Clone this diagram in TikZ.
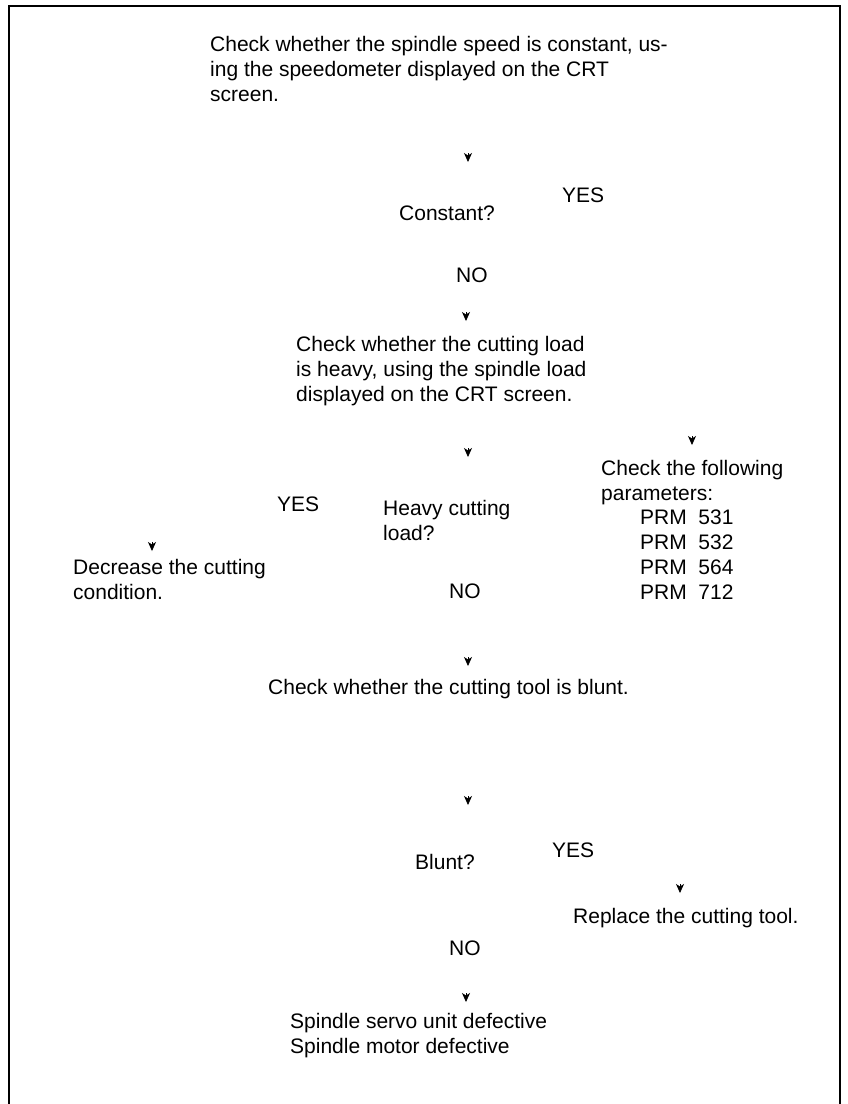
\documentclass[tikz,border=0pt]{standalone}
\usepackage{fontspec}
\setmainfont{Liberation Sans}
\usetikzlibrary{arrows.meta}
\begin{document}
\begin{tikzpicture}[x=1pt,y=-1pt,
  txt/.style={anchor=base west,inner sep=0pt,align=left,font=\fontsize{21}{25}\selectfont},
  arr/.style={-{Stealth[length=9pt,width=8pt,inset=2.5pt]},line width=0.8pt,black}]
\useasboundingbox (0,0) rectangle (848,1104);
\draw[line width=2pt] (9,1110) -- (9,6) -- (840,6) -- (840,1110);
% texts (multi-line nodes anchored at the baseline of their last line)
\node[txt] (t1) at (210,101) {Check whether the spindle speed is constant, us-\\ing the speedometer displayed on the CRT\\screen.};
\node[txt] (yes1) at (562,202) {YES};
\node[txt] (q1) at (399,220) {Constant?};
\node[txt] (no1) at (456,282) {NO};
\node[txt] (t2) at (296,401) {Check whether the cutting load\\is heavy, using the spindle load\\displayed on the CRT screen.};
\node[txt] (t3) at (601,500) {Check the following\\parameters:};
\node[txt] (prm) at (640,599) {PRM\hspace{0.55em}531\\PRM\hspace{0.55em}532\\PRM\hspace{0.55em}564\\PRM\hspace{0.55em}712};
\node[txt] (yes2) at (277,511) {YES};
\node[txt] (q2) at (383,540) {Heavy cutting\\load?};
\node[txt] (dec) at (73,599) {Decrease the cutting\\condition.};
\node[txt] (no2) at (449,598) {NO};
\node[txt] (t4) at (268,694) {Check whether the cutting tool is blunt.};
\node[txt] (yes3) at (552,857) {YES};
\node[txt] (q3) at (415,869) {Blunt?};
\node[txt] (rep) at (573,923) {Replace the cutting tool.};
\node[txt] (no3) at (449,955) {NO};
\node[txt] (t5) at (290,1053) {Spindle servo unit defective\\Spindle motor defective};
% arrow tips
\coordinate (a1) at (468,162);
\coordinate (a2) at (466,321);
\coordinate (a3) at (468,457);
\coordinate (a4) at (692,445);
\coordinate (a5) at (152,551);
\coordinate (a6) at (468,666);
\coordinate (a7) at (468,805);
\coordinate (a8) at (680,893);
\coordinate (a9) at (466,1002);
\foreach \c in {a1,a2,a3,a4,a5,a6,a7,a8,a9}
  \draw[arr] (\c) ++(0,-9) -- (\c);
\end{tikzpicture}
\end{document}
